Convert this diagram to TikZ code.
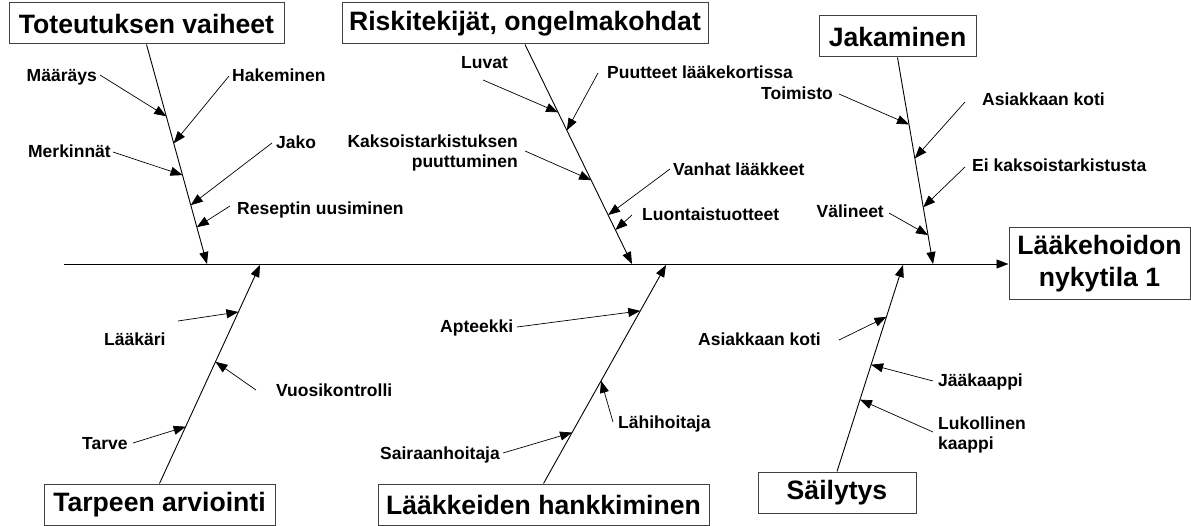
\documentclass[tikz,border=0pt]{standalone}
\usepackage{fontspec}
\setmainfont{Liberation Sans}
\usetikzlibrary{arrows.meta,calc}

\tikzset{
  x=1pt, y=-1pt,
  titlebox/.style={draw=black!75, line width=1pt, inner sep=0pt,
    font=\bfseries\fontsize{26.6}{32}\selectfont, align=center},
  lbl/.style={inner sep=0pt, font=\bfseries\fontsize{17.5}{20.5}\selectfont},
  bone/.style={line width=0.9pt, -{Triangle[length=12pt,width=9pt]}},
  twig/.style={line width=0.7pt, -{Triangle[length=12pt,width=9pt]}},
}

\begin{document}
\begin{tikzpicture}
\useasboundingbox (0,0) rectangle (1191,526);

% effect box and spine
\node[titlebox, minimum width=181, minimum height=72] (eff) at (1099.5,264) {Lääkehoidon\\nykytila 1};
\coordinate (tail) at (64,264);
\draw[bone] (tail) -- (eff.west);

% cause boxes
\node[titlebox, minimum width=275, minimum height=41] (c1) at (146.5,23.5) {Toteutuksen vaiheet};
\node[titlebox, minimum width=366, minimum height=41] (c2) at (525,23.5) {Riskitekijät, ongelmakohdat};
\node[titlebox, minimum width=157, minimum height=41] (c3) at (897.5,36.5) {Jakaminen};
\node[titlebox, minimum width=231, minimum height=41] (c4) at (159.5,504.5) {Tarpeen arviointi};
\node[titlebox, minimum width=331, minimum height=41] (c5) at (543.5,504.5) {Lääkkeiden hankkiminen};
\node[titlebox, minimum width=158, minimum height=41] (c6) at (837,492.5) {Säilytys};

% where the bones meet the spine
\coordinate (s1) at (207,264);
\coordinate (s2) at (632,264);
\coordinate (s3) at (933,264);
\coordinate (s4) at (260,265);
\coordinate (s5) at (666,265);
\coordinate (s6) at (903,265);

\draw[bone] (c1.south) -- (s1);
\draw[bone] (c2.south) -- (s2);
\draw[bone] (c3.south) -- (s3);
\draw[bone] (c4.north) -- (s4);
\draw[bone] (c5.north) -- (s5);
\draw[bone] (c6.north) -- (s6);

% --- Toteutuksen vaiheet
\node[lbl, anchor=base east] (a1) at (97,82) {Määräys};
\node[lbl, anchor=base west] (a2) at (232,82) {Hakeminen};
\node[lbl, anchor=base east] (a3) at (111,158) {Merkinnät};
\node[lbl, anchor=base west] (a4) at (276,149) {Jako};
\node[lbl, anchor=base west] (a5) at (237,215) {Reseptin uusiminen};
\coordinate (a1t) at (100,75);
\coordinate (a2t) at (229,76);
\coordinate (a3t) at (113,152);
\coordinate (a4t) at (272,143);
\coordinate (a5t) at (230,206);
\draw[twig] (a1t) -- ($(c1.south)!0.327!(s1)$);
\draw[twig] (a2t) -- ($(c1.south)!0.45!(s1)$);
\draw[twig] (a3t) -- ($(c1.south)!0.595!(s1)$);
\draw[twig] (a4t) -- ($(c1.south)!0.732!(s1)$);
\draw[twig] (a5t) -- ($(c1.south)!0.832!(s1)$);

% --- Riskitekijät, ongelmakohdat
\node[lbl, anchor=base west] (b1) at (461,69) {Luvat};
\node[lbl, anchor=base west] (b2) at (607,79) {Puutteet lääkekortissa};
\node[lbl, anchor=north east, align=right] (b3) at (518,134.5) {Kaksoistarkistuksen\\puuttuminen};
\node[lbl, anchor=base west] (b4) at (673,176) {Vanhat lääkkeet};
\node[lbl, anchor=base west] (b5) at (642,221) {Luontaistuotteet};
\coordinate (b1t) at (483,80);
\coordinate (b2t) at (598,73);
\coordinate (b3t) at (525,151);
\coordinate (b4t) at (670,169);
\coordinate (b5t) at (632,215);
\draw[twig] (b1t) -- ($(c2.south)!0.309!(s2)$);
\draw[twig] (b2t) -- ($(c2.south)!0.391!(s2)$);
\draw[twig] (b3t) -- ($(c2.south)!0.618!(s2)$);
\draw[twig] (b4t) -- ($(c2.south)!0.777!(s2)$);
\draw[twig] (b5t) -- ($(c2.south)!0.845!(s2)$);

% --- Jakaminen
\node[lbl, anchor=base east] (d1) at (833,100) {Toimisto};
\node[lbl, anchor=base west] (d2) at (982,106) {Asiakkaan koti};
\node[lbl, anchor=base west] (d3) at (972,172) {Ei kaksoistarkistusta};
\node[lbl, anchor=base east] (d4) at (884,218) {Välineet};
\coordinate (d1t) at (839,94);
\coordinate (d2t) at (965,102);
\coordinate (d3t) at (965,167);
\coordinate (d4t) at (889,213);
\draw[twig] (d1t) -- ($(c3.south)!0.324!(s3)$);
\draw[twig] (d2t) -- ($(c3.south)!0.488!(s3)$);
\draw[twig] (d3t) -- ($(c3.south)!0.725!(s3)$);
\draw[twig] (d4t) -- ($(c3.south)!0.86!(s3)$);

% --- Tarpeen arviointi
\node[lbl, anchor=base west] (e1) at (104,346) {Lääkäri};
\node[lbl, anchor=base west] (e2) at (276,396) {Vuosikontrolli};
\node[lbl, anchor=base west] (e3) at (82,449) {Tarve};
\coordinate (e1t) at (178,321);
\coordinate (e2t) at (256,390);
\coordinate (e3t) at (133,443);
\draw[twig] (e1t) -- ($(c4.north)!0.785!(s4)$);
\draw[twig] (e2t) -- ($(c4.north)!0.557!(s4)$);
\draw[twig] (e3t) -- ($(c4.north)!0.26!(s4)$);

% --- Lääkkeiden hankkiminen
\node[lbl, anchor=base west] (f1) at (440,333) {Apteekki};
\node[lbl, anchor=base west] (f2) at (618,428) {Lähihoitaja};
\node[lbl, anchor=base west] (f3) at (380,459) {Sairaanhoitaja};
\coordinate (f1t) at (517,327);
\coordinate (f2t) at (613,422);
\coordinate (f3t) at (503,453);
\draw[twig] (f1t) -- ($(c5.north)!0.79!(s5)$);
\draw[twig] (f2t) -- ($(c5.north)!0.47!(s5)$);
\draw[twig] (f3t) -- ($(c5.north)!0.233!(s5)$);

% --- Säilytys
\node[lbl, anchor=base west] (g1) at (698,345) {Asiakkaan koti};
\node[lbl, anchor=base west] (g2) at (938,386) {Jääkaappi};
\node[lbl, anchor=north west, align=left] (g3) at (938,416.5) {Lukollinen\\kaappi};
\coordinate (g1t) at (839,340);
\coordinate (g2t) at (933,381);
\coordinate (g3t) at (933,432);
\draw[twig] (g1t) -- ($(c6.north)!0.749!(s6)$);
\draw[twig] (g2t) -- ($(c6.north)!0.517!(s6)$);
\draw[twig] (g3t) -- ($(c6.north)!0.348!(s6)$);
\end{tikzpicture}
\end{document}
